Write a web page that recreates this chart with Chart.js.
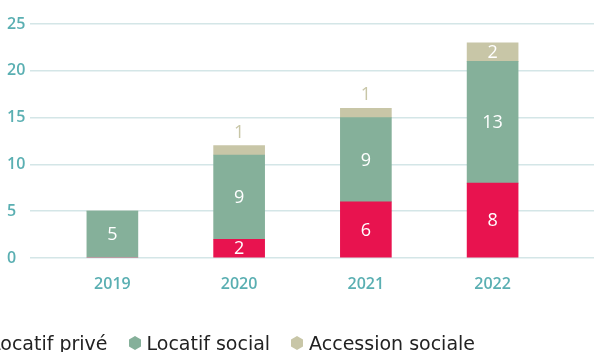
<!DOCTYPE html>
<html lang="fr">
<head>
<meta charset="utf-8">
<script src="https://cdn.jsdelivr.net/npm/chart.js@4/dist/chart.umd.min.js"></script>
<style>
  html, body { margin: 0; padding: 0; background: #fff; overflow: hidden; }
  #wrap { position: relative; width: 594px; height: 352px; }
  #legend {
    position: absolute; left: -28px; top: 332px; display: flex; align-items: center;
    font-family: "DejaVu Sans", sans-serif; font-size: 19px; color: #222; white-space: nowrap;
  }
  #legend .item { display: flex; align-items: center; margin-right: 21px; }
  #legend svg { margin-right: 6px; }
</style>
</head>
<body>
<div id="wrap">
  <canvas id="c" width="594" height="352"></canvas>
  <div id="legend"></div>
</div>
<script>
// Logements livrés par année et par type
const years = ['2019', '2020', '2021', '2022'];
const seriesNames = ['Locatif privé', 'Locatif social', 'Accession sociale'];
const locatifPrive = [0, 2, 6, 8];
const locatifSocial = [5, 9, 9, 13];
const accessionSociale = [0, 1, 1, 2];
const yTicks = [0, 5, 10, 15, 20, 25];

const colors = ['#e8134f', '#85b09a', '#c8c6a7'];
const tickColor = '#5aafb2';
const values = [locatifPrive, locatifSocial, accessionSociale];

const datasets = values.map((vals, s) => ({
  label: seriesNames[s],
  data: years.map((y, i) => ({ x: i, y: vals[i] })),
  backgroundColor: colors[s],
  borderWidth: 0,
  barThickness: 51
}));

// Value labels inside the segments; thin top segments get their label above
const valueLabels = {
  id: 'valueLabels',
  afterDatasetsDraw(chart) {
    const ctx = chart.ctx;
    ctx.save();
    ctx.textAlign = 'center';
    ctx.textBaseline = 'middle';
    ctx.font = '500 18px "Open Sans", sans-serif';
    chart.data.datasets.forEach((ds, d) => {
      const meta = chart.getDatasetMeta(d);
      meta.data.forEach((bar, i) => {
        const v = ds.data[i].y;
        if (!v) return;
        const h = Math.abs(bar.base - bar.y);
        if (h < 14) {
          ctx.fillStyle = ds.backgroundColor;
          ctx.fillText(String(v), bar.x, bar.y - 13);
        } else {
          ctx.fillStyle = '#ffffff';
          ctx.fillText(String(v), bar.x, (bar.y + bar.base) / 2 + 1);
        }
      });
    });
    ctx.restore();
  }
};

const tickFont = { family: '"Open Sans", sans-serif', size: 16, weight: '600' };

new Chart(document.getElementById('c'), {
  type: 'bar',
  data: { datasets },
  options: {
    responsive: false,
    animation: false,
    layout: { padding: { left: 7, top: 24, right: 0, bottom: 0 } },
    plugins: { legend: { display: false }, tooltip: { enabled: false } },
    scales: {
      x: {
        type: 'linear',
        stacked: true,
        offset: false,
        min: -0.65,
        max: 3.8,
        grid: { display: false, drawTicks: false, offset: false },
        border: { display: false },
        afterBuildTicks: (scale) => { scale.ticks = years.map((y, i) => ({ value: i })); },
        afterFit: (scale) => { scale.height = 94; },
        ticks: {
          padding: 17,
          color: tickColor,
          font: tickFont,
          callback: (v) => years[v]
        }
      },
      y: {
        stacked: true,
        min: 0,
        max: 25,
        afterBuildTicks: (scale) => { scale.ticks = yTicks.map(v => ({ value: v })); },
        afterFit: (scale) => { scale.width = 23; },
        grid: { color: '#d4e6e7', lineWidth: 1.5, drawTicks: false },
        border: { display: false },
        ticks: {
          crossAlign: 'far',
          padding: 6,
          color: tickColor,
          font: tickFont
        }
      }
    }
  },
  plugins: [valueLabels]
});

// Legend with hexagon markers
const legend = document.getElementById('legend');
seriesNames.forEach((name, s) => {
  const item = document.createElement('div');
  item.className = 'item';
  item.innerHTML =
    '<svg width="12" height="14" viewBox="0 0 12 14"><polygon points="6,0 12,3.5 12,10.5 6,14 0,10.5 0,3.5" fill="' +
    colors[s] + '"/></svg>';
  const span = document.createElement('span');
  span.textContent = name;
  item.appendChild(span);
  legend.appendChild(item);
});
</script>
</body>
</html>
